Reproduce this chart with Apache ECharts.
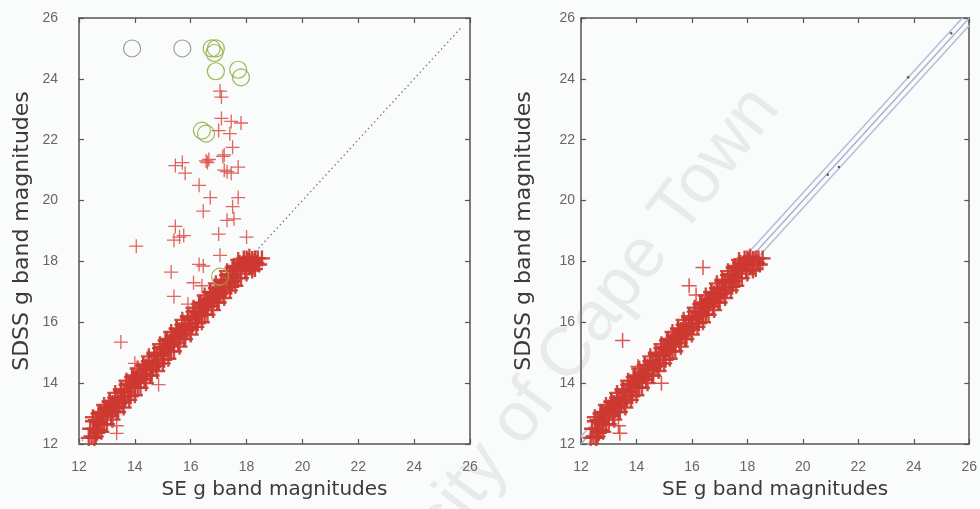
<!DOCTYPE html>
<html>
<head>
<meta charset="utf-8">
<script src="https://cdn.jsdelivr.net/npm/echarts@6/dist/echarts.min.js"></script>
<style>
html,body{margin:0;padding:0;background:#fafbfb;}
#chart{width:980px;height:509px;}
</style>
</head>
<body>
<div id="chart"></div>
<script>
// ---- data (magnitudes) ----
const axisTicks = [12, 14, 16, 18, 20, 22, 24, 26];

// main correlated band (SE g, SDSS g)
const bandPoints = [
[12.40,12.50],[12.45,12.25],[12.50,12.75],[12.55,12.50],[12.60,12.78],[12.65,12.37],[12.70,12.72],[12.75,13.05],
[12.80,12.65],[12.85,12.97],[12.90,12.65],[12.95,13.15],[13.00,12.90],[13.05,13.10],[13.10,13.38],[13.15,12.93],
[13.20,13.35],[13.25,13.23],[13.30,13.52],[13.35,13.05],[13.40,13.48],[13.45,13.33],[13.50,13.76],[13.55,13.37],
[13.60,13.70],[13.65,13.45],[13.70,13.95],[13.75,13.70],[13.80,13.98],[13.85,13.57],[13.90,13.92],[13.95,14.25],
[14.00,13.85],[14.05,14.17],[14.10,13.85],[14.15,14.35],[14.20,14.10],[14.25,14.30],[14.30,14.58],[14.35,14.13],
[14.40,14.55],[14.45,14.43],[14.50,14.72],[14.55,14.25],[14.60,14.68],[14.65,14.53],[14.70,14.96],[14.75,14.57],
[14.80,14.90],[14.85,14.65],[14.90,15.15],[14.95,14.90],[15.00,15.18],[15.05,14.77],[15.10,15.12],[15.15,15.45],
[15.20,15.05],[15.25,15.37],[15.30,15.05],[15.35,15.55],[15.40,15.30],[15.45,15.50],[15.50,15.78],[15.55,15.33],
[15.60,15.75],[15.65,15.63],[15.70,15.92],[15.75,15.45],[15.80,15.88],[15.85,15.73],[15.90,16.16],[15.95,15.77],
[16.00,16.10],[16.05,15.85],[16.10,16.35],[16.15,16.10],[16.20,16.38],[16.25,15.97],[16.30,16.32],[16.35,16.65],
[16.40,16.25],[16.45,16.57],[16.50,16.25],[16.55,16.75],[16.60,16.50],[16.65,16.70],[16.70,16.98],[16.75,16.53],
[16.80,16.95],[16.85,16.83],[16.90,17.12],[16.95,16.65],[17.00,17.08],[17.05,16.93],[17.10,17.36],[17.15,16.97],
[17.20,17.30],[17.25,17.05],[17.30,17.55],[17.35,17.30],[17.40,17.58],[17.45,17.17],[17.50,17.52],[17.55,17.85],
[17.60,17.45],[17.65,17.77],[17.70,17.45],[17.75,17.95],[17.80,17.70],[17.85,17.90],[17.90,18.10],[17.95,17.73],
[18.00,18.10],[18.05,18.03],[18.10,18.00],[18.15,17.85],[18.20,18.08],[18.25,17.90],[18.30,18.10],[18.35,17.95],
[18.40,18.10],[18.45,17.90],[18.55,18.10],
[12.55,12.20],[12.70,12.45],[13.00,13.20],[13.30,13.20],[13.60,13.55],[14.00,14.05],[14.30,14.25],[14.60,14.45],
[15.00,14.95],[15.30,15.25],[15.60,15.55],[16.00,15.95],[16.30,16.20],[16.60,16.60],[16.90,16.90],[17.20,17.15],
[17.50,17.35],[17.80,17.85],[18.10,17.80],[18.30,17.75]
];

// outer edge of the band
const bandEdge = [
[12.50,12.88],[12.60,12.25],[12.70,13.00],[12.80,12.40],[12.90,13.28],[13.00,12.65],[13.10,13.40],[13.20,12.80],
[13.30,13.68],[13.40,13.05],[13.50,13.80],[13.60,13.20],[13.70,14.08],[13.80,13.45],[13.90,14.20],[14.00,13.60],
[14.10,14.48],[14.20,13.85],[14.30,14.60],[14.40,14.00],[14.50,14.88],[14.60,14.25],[14.70,15.00],[14.80,14.40],
[14.90,15.28],[15.00,14.65],[15.10,15.40],[15.20,14.80],[15.30,15.68],[15.40,15.05],[15.50,15.80],[15.60,15.20],
[15.70,16.08],[15.80,15.45],[15.90,16.20],[16.00,15.60],[16.10,16.48],[16.20,15.85],[16.30,16.60],[16.40,16.00],
[16.50,16.88],[16.60,16.25],[16.70,17.00],[16.80,16.40],[16.90,17.28],[17.00,16.65],[17.10,17.40],[17.20,16.80],
[17.30,17.68],[17.40,17.05],[17.50,17.80],[17.60,17.20],[17.70,18.05],[17.80,17.45],[17.90,17.95],[18.00,17.60],
[18.10,18.15],[18.20,17.70],[18.30,18.00],[12.35,12.20]
];

// scattered sources in the left panel
const leftOutliers = [
[17.05,23.6],[17.10,23.4],[17.10,22.7],[17.45,22.6],[17.80,22.55],[17.40,22.2],[17.00,22.3],
[17.50,21.75],[17.20,21.5],[17.15,21.45],[16.55,21.3],[16.60,21.25],[16.65,21.35],[15.70,21.25],[15.45,21.15],
[17.20,21.0],[17.30,20.95],[17.70,21.1],[17.45,20.9],[15.80,20.9],[16.30,20.5],[16.70,20.1],[17.70,20.1],
[16.45,19.65],[17.50,19.8],[17.30,19.35],[17.55,19.4],[15.45,19.15],[15.60,18.8],[15.40,18.7],[15.75,18.85],
[17.00,18.9],[18.00,18.8],[14.05,18.5],[17.05,18.2],[16.30,17.9],[16.45,17.85],[15.30,17.65],[16.10,17.3],
[16.40,17.2],[15.40,16.85],[15.90,16.6],[13.50,15.35],[14.00,14.65],[14.85,13.95],[13.35,12.35],[13.35,12.6]
];

// scattered sources in the right panel
const rightOutliers = [
[16.40,17.8],[15.90,17.2],[13.50,15.4],[14.05,14.55],[14.90,14.0],[13.40,12.35],[13.35,12.6],[18.30,17.8],[16.15,16.9]
];

// undetected / flagged sources (circles)
const greenCircles = [
[16.75,25.0],[16.90,25.0],[16.85,24.85],[16.90,24.25],[17.70,24.3],[17.80,24.05],[16.40,22.3],[16.55,22.2],[17.05,17.5]
];
const grayCircles = [[13.90,25.0],[15.70,25.0]];

// reference lines
const identityLine = [[12,12],[25.7,25.7]];
const envelopeMid = [[12,12],[26,26]];
const envelopeUpper = [[12,12.25],[25.75,26]];
const envelopeLower = [[12.25,12],[26,25.75]];
const envelopeDots = [[20.9,20.85],[21.3,21.1],[23.8,24.05],[25.35,25.5]];

// ---- chart ----
const PLUS = 'path://M5 0 L5 10 M0 5 L10 5';
const RED = '#cc3830';
const FRAME = '#555';

function axisPair(grid, labelMargin, isX, name, nameGap, nameSize) {
  const base = {
    type: 'value', gridIndex: grid, min: axisTicks[0], max: axisTicks[axisTicks.length - 1], interval: 2,
    splitLine: {show: false},
    axisLine: {show: true, onZero: false, lineStyle: {color: FRAME, width: 1.5}},
    axisTick: {show: true, inside: true, length: 5, lineStyle: {color: FRAME, width: 1.2}}
  };
  const main = Object.assign({}, base, {
    position: isX ? 'bottom' : 'left',
    name: name, nameLocation: 'middle', nameGap: nameGap,
    nameTextStyle: {fontFamily: 'DejaVu Sans', fontSize: nameSize, color: '#3a3a3a'},
    axisLabel: {show: true, margin: labelMargin, fontFamily: 'Liberation Sans', fontSize: 14, color: '#666'}
  });
  const mirror = Object.assign({}, base, {position: isX ? 'top' : 'right', axisLabel: {show: false}});
  return [main, mirror];
}

const xAxes = [].concat(
  axisPair(0, 16, true, 'SE g band magnitudes', 36, 20),
  axisPair(1, 16, true, 'SE g band magnitudes', 36, 20)
);
const yAxes = [].concat(
  axisPair(0, 21, false, 'SDSS g band magnitudes', 46, 22),
  axisPair(1, 6, false, 'SDSS g band magnitudes', 46, 22)
);

function plusSeries(data, xi, yi, color, size, width, opacity) {
  return {
    type: 'scatter', xAxisIndex: xi, yAxisIndex: yi, data: data, symbol: PLUS, symbolSize: size, z: 3,
    itemStyle: {color: 'rgba(0,0,0,0)', borderColor: color, borderWidth: width, opacity: opacity},
    emphasis: {disabled: true}, silent: true
  };
}
function circleSeries(data, xi, yi, color, width) {
  return {
    type: 'scatter', xAxisIndex: xi, yAxisIndex: yi, data: data, symbol: 'circle', symbolSize: 17, z: 4,
    itemStyle: {color: 'rgba(0,0,0,0)', borderColor: color, borderWidth: width, opacity: 0.9},
    emphasis: {disabled: true}, silent: true
  };
}
function lineSeries(data, xi, yi, color, width, type) {
  return {
    type: 'line', xAxisIndex: xi, yAxisIndex: yi, data: data, showSymbol: false, z: 1,
    lineStyle: {color: color, width: width, type: type}, silent: true
  };
}

const option = {
  backgroundColor: '#fafbfb',
  animation: false,
  grid: [
    {left: 79, top: 18, width: 391, height: 426},
    {left: 581, top: 18, width: 389, height: 426}
  ],
  xAxis: xAxes,
  yAxis: yAxes,
  graphic: [{
    type: 'text', x: 336, y: 718, rotation: 0.92, z: 100,
    style: {text: 'University of Cape Town', font: '70px "Liberation Sans"', fill: 'rgba(140,140,140,0.15)',
            textAlign: 'left', textVerticalAlign: 'bottom'}
  }],
  series: [
    // left panel
    lineSeries(identityLine, 0, 0, '#7a7a7a', 1.3, [1.5, 3]),
    plusSeries(bandEdge, 0, 0, RED, 16, 2.4, 0.9),
    plusSeries(bandPoints, 0, 0, RED, 16, 2.4, 0.95),
    plusSeries(leftOutliers, 0, 0, '#dc4a44', 14, 1.3, 0.85),
    circleSeries(greenCircles, 0, 0, '#97ad45', 1.2),
    circleSeries(grayCircles, 0, 0, '#8c8f85', 1.1),
    // right panel
    lineSeries(envelopeUpper, 2, 2, '#b6bcd8', 1.5, 'solid'),
    lineSeries(envelopeMid, 2, 2, '#a9afcc', 1.4, 'solid'),
    lineSeries(envelopeLower, 2, 2, '#b6bcd8', 1.5, 'solid'),
    {type: 'scatter', xAxisIndex: 2, yAxisIndex: 2, data: envelopeDots, symbol: 'circle', symbolSize: 2.5, z: 2,
     itemStyle: {color: '#333'}, silent: true},
    plusSeries(bandEdge, 2, 2, RED, 16, 2.4, 0.9),
    plusSeries(bandPoints, 2, 2, RED, 16, 2.4, 0.95),
    plusSeries(rightOutliers, 2, 2, '#d8443e', 15, 1.5, 0.9)
  ]
};

const chart = echarts.init(document.getElementById('chart'), null, {renderer: 'canvas'});
chart.setOption(option);
</script>
</body>
</html>
